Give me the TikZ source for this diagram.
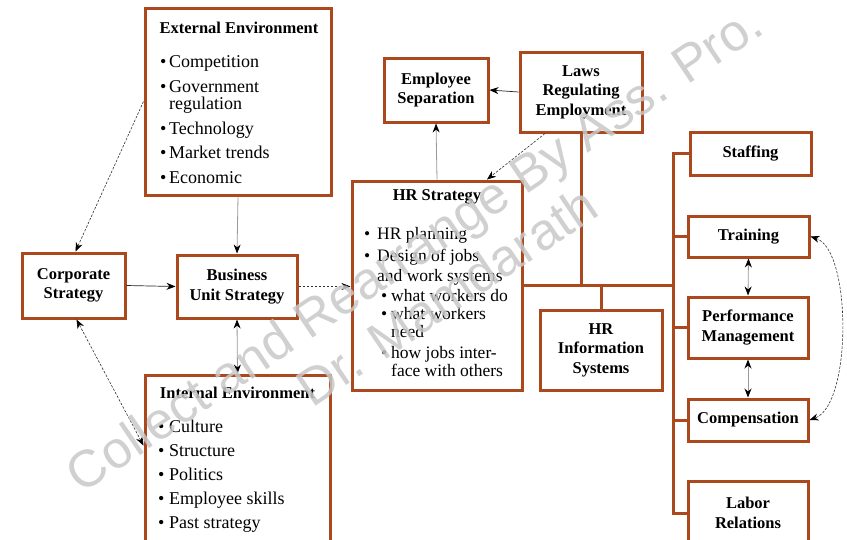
\documentclass[tikz,border=0pt]{standalone}
\usepackage{fontspec}
\setmainfont{Liberation Serif}
\newfontfamily\wmfont{Liberation Sans}
\usetikzlibrary{arrows.meta}
\definecolor{boxc}{RGB}{172,72,30}
\definecolor{wmc}{RGB}{200,200,200}
\newcommand\hrbul[1]{\makebox[#1][l]{•}}
\begin{document}
\begin{tikzpicture}[x=1pt,y=-1pt,
  box/.style={draw=boxc, line width=3pt, fill=white, inner sep=0pt, align=center,
    font=\fontsize{16.5}{19.5}\selectfont\bfseries},
  ttl/.style={font=\fontsize{16.5}{19.5}\selectfont\bfseries, inner sep=0pt},
  itm/.style={font=\fontsize{18}{20}\selectfont, anchor=base west, inner sep=0pt},
  hitm/.style={font=\fontsize{17.5}{19}\selectfont, anchor=base west, inner sep=0pt},
  conn/.style={draw=boxc, line width=3pt},
  onearrow/.style={-{Stealth[length=9pt,width=7pt,color=black]}},
  twoarrow/.style={{Stealth[length=9pt,width=7pt,color=black]}-{Stealth[length=9pt,width=7pt,color=black]}},
  dashline/.style={black!80, line width=0.6pt, dash pattern=on 2.5pt off 1.5pt},
  greyline/.style={black!40, line width=0.8pt},
  darkline/.style={black!85, line width=0.7pt}]
\useasboundingbox (0,0) rectangle (847,539);
\fill[white] (0,0) rectangle (847,539);

% boxes
\node[box, minimum width=186pt, minimum height=187pt] (ext) at (238,101.5) {};
\node[box, minimum width=103pt, minimum height=65pt] (corp) at (73.5,285.5) {Corporate\\Strategy};
\node[box, minimum width=120pt, minimum height=63pt] (bus) at (237,286.5) {Business\\Unit Strategy};
\node[box, minimum width=185pt, minimum height=170pt] (int) at (237.5,460) {};
\node[box, minimum width=170pt, minimum height=209pt] (hrs) at (437,285.5) {};
\node[box, minimum width=104pt, minimum height=64pt] (sep) at (436,90) {Employee\\Separation};
\node[box, minimum width=122pt, minimum height=80pt] (laws) at (581,92) {Laws\\Regulating\\Employment};
\node[box, minimum width=122pt, minimum height=80pt] (hris) at (601,350) {HR\\Information\\Systems};
\node[box, minimum width=121pt, minimum height=43pt] (staff) at (750.5,153.5) {Staffing};
\node[box, minimum width=121pt, minimum height=41pt] (train) at (748.5,236.5) {Training};
\node[box, minimum width=120pt, minimum height=61pt] (perf) at (748,327.5) {Performance\\Management};
\node[box, minimum width=120pt, minimum height=42pt] (comp) at (748,420) {Compensation};
\node[box, minimum width=120pt, minimum height=63pt] (labor) at (748,513) {Labor\\Relations};

% External environment text
\node[ttl] (extt) at (239,28) {External Environment};
\node[itm] (e1) at (160,67) {\hrbul{9pt}Competition};
\node[itm] (e2) at (160,92) {\hrbul{9pt}Government};
\node[itm] (e3) at (169,109) {regulation};
\node[itm] (e4) at (160,134) {\hrbul{9pt}Technology};
\node[itm] (e5) at (160,158) {\hrbul{9pt}Market trends};
\node[itm] (e6) at (160,183) {\hrbul{9pt}Economic};

% Internal environment text
\node[ttl] (intt) at (237.5,393) {Internal Environment};
\node[itm] (i1) at (158,432) {\hrbul{11pt}Culture};
\node[itm] (i2) at (158,456) {\hrbul{11pt}Structure};
\node[itm] (i3) at (158,480) {\hrbul{11pt}Politics};
\node[itm] (i4) at (158,504) {\hrbul{11pt}Employee skills};
\node[itm] (i5) at (158,528) {\hrbul{11pt}Past strategy};

% HR strategy text
\node[ttl] (hrst) at (437,197) {HR Strategy};
\node[hitm] (h1) at (364,239) {\hrbul{13pt}HR planning};
\node[hitm] (h2) at (364,261) {\hrbul{13pt}Design of jobs};
\node[hitm] (h3) at (377,281) {and work systems};
\node[hitm] (h4) at (381,301) {\hrbul{10pt}what workers do};
\node[hitm] (h5) at (381,319) {\hrbul{10pt}what workers};
\node[hitm] (h6) at (391,337) {need};
\node[hitm] (h7) at (381,358) {\hrbul{10pt}how jobs inter-};
\node[hitm] (h8) at (391,376) {face with others};

% orange tree connectors
\coordinate (jn) at (673,285.5);
\draw[conn] (laws.south) -- (laws.south |- jn);
\draw[conn] (hrs.east) -- (jn);
\draw[conn] (hris.north) -- (hris.north |- jn);
\draw[conn] ([yshift=1.5pt]staff.west -| jn) -- ([yshift=-1.5pt]labor.west -| jn);
\draw[conn] (staff.west -| jn) -- (staff.west);
\draw[conn] (train.west -| jn) -- (train.west);
\draw[conn] (perf.west -| jn) -- (perf.west);
\draw[conn] (comp.west -| jn) -- (comp.west);
\draw[conn] (labor.west -| jn) -- (labor.west);

% arrows
\draw[dashline, onearrow] (ext.west) -- ([xshift=2pt]corp.north);
\draw[greyline, onearrow] (ext.south) -- (bus.north);
\draw[darkline, onearrow] (corp.east) -- (bus.west);
\draw[dashline, onearrow] (bus.east) -- ([yshift=-1pt]hrs.west);
\draw[greyline, twoarrow] (bus.south) -- (int.north);
\draw[dashline, twoarrow] ([yshift=-72pt]int.north west) -- ([xshift=3pt]corp.south);
\draw[greyline, onearrow] (hrs.north) -- (sep.south);
\draw[darkline, onearrow] (laws.west) -- (sep.east);
\draw[dashline, onearrow] ([xshift=-36pt]laws.south) -- ([xshift=50pt]hrs.north);
\draw[greyline, twoarrow] (train.south) -- (perf.north);
\draw[greyline, twoarrow] (perf.south) -- (comp.north);
\draw[dashline, twoarrow] (train.east) .. controls (852,250) and (852,405) .. (comp.east);

% watermark
\node[rotate=34, text=wmc, opacity=0.85, align=center, inner sep=0pt,
  font=\wmfont\fontsize{52}{58}\selectfont] (wm) at (430,272)
  {Collect and Rearrange By Ass. Pro.\\Dr. Mamdarath};
\end{tikzpicture}
\end{document}
